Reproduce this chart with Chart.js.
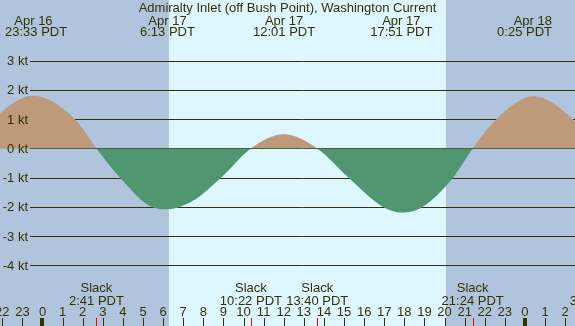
<!DOCTYPE html>
<html>
<head>
<meta charset="utf-8">
<script src="https://cdn.jsdelivr.net/npm/chart.js@4.4.0/dist/chart.umd.min.js"></script>
<style>
  body { margin: 0; overflow: hidden; background: #b0c4de; }
  canvas { display: block; }
</style>
</head>
<body>
<canvas id="graph" width="575" height="326"></canvas>
<script>
// current speed in knots, hours from Apr 17 00:00 PDT
let curveHours = [-3.5, -2.114, -0.45, 1.617, 2.683, 3.856, 5.44, 6.217, 7.438, 8.88, 10.367, 12.017, 13.667, 15.23, 16.94, 17.85, 18.9, 20.42, 21.4, 22.58, 24.417, 26.49, 27.6];
let curveKnots = [0, 1.19, 1.80, 1.0, 0, -1.0, -2.0, -2.08, -1.81, -1.0, 0, 0.48, 0, -1.0, -2.0, -2.19, -2.0, -1.0, 0, 1.0, 1.78, 0.93, 0];

// max flood / ebb events (top labels)
let maxHours = [-0.45, 6.217, 12.017, 17.85, 24.417];
let maxDays = ["Apr 16", "Apr 17", "Apr 17", "Apr 17", "Apr 18"];
let maxTimes = ["23:33 PDT", "6:13 PDT", "12:01 PDT", "17:51 PDT", "0:25 PDT"];

// slack water events (bottom labels)
let slackHours = [2.683, 10.367, 13.667, 21.4, 27.6];
let slackTimes = ["2:41 PDT", "10:22 PDT", "13:40 PDT", "21:24 PDT", "3:36 PDT"];

// sunrise, sunset
let sunHours = [6.29, 20.07];

let yTicks = [3, 2, 1, 0, -1, -2, -3, -4];
let hourTicks = [-2, -1, 0, 1, 2, 3, 4, 5, 6, 7, 8, 9, 10, 11, 12, 13, 14, 15, 16, 17, 18, 19, 20, 21, 22, 23, 24, 25, 26];

const titulo = "Admiralty Inlet (off Bush Point), Washington Current";
const ink = "rgb(51,51,0)";
const fuente = "13px 'Liberation Sans', Arial, sans-serif";

let graph = document.querySelector("#graph");

const fondo = {
    id: 'fondo',
    beforeDraw(chart) {
        const ctx = chart.ctx;
        const x = chart.scales.x;
        ctx.save();
        ctx.fillStyle = "rgb(176,196,222)";
        ctx.fillRect(0, 0, chart.width, chart.height);
        ctx.fillStyle = "rgb(222,246,255)";
        const a = x.getPixelForValue(sunHours[0]);
        const b = x.getPixelForValue(sunHours[1]);
        ctx.fillRect(a, 0, b - a, chart.height);
        ctx.restore();
    },
    beforeDatasetsDraw(chart) {
        const ctx = chart.ctx;
        const y = chart.scales.y;
        ctx.save();
        ctx.strokeStyle = ink;
        ctx.lineWidth = 1;
        yTicks.forEach((v) => {
            const py = Math.round(y.getPixelForValue(v)) + 0.5;
            ctx.beginPath();
            ctx.moveTo(30, py);
            ctx.lineTo(chart.width, py);
            ctx.stroke();
        });
        ctx.restore();
    },
    afterDatasetsDraw(chart) {
        const ctx = chart.ctx;
        const x = chart.scales.x;
        const y = chart.scales.y;
        ctx.save();
        ctx.font = fuente;
        ctx.fillStyle = ink;
        ctx.textBaseline = "alphabetic";

        // eje y
        ctx.textAlign = "right";
        yTicks.forEach((v) => {
            ctx.fillText(v + " kt", 28, y.getPixelForValue(v) + 4.5);
        });

        // titulo
        ctx.textAlign = "center";
        ctx.fillText(titulo, chart.width / 2, 11.5);

        // maximos arriba
        maxHours.forEach((h, i) => {
            const px = x.getPixelForValue(h);
            [[maxDays[i], 24.5], [maxTimes[i], 36]].forEach(([t, by]) => {
                const w = ctx.measureText(t).width;
                let c = px;
                if (c + w / 2 > 552) c = 552 - w / 2;
                if (c - w / 2 < 5) c = 5 + w / 2;
                ctx.fillText(t, c, by);
            });
        });

        // slack abajo
        slackHours.forEach((h, i) => {
            const px = x.getPixelForValue(h);
            ctx.fillText("Slack", px, 292);
            ctx.fillText(slackTimes[i], px, 304.5);
        });

        // horas
        hourTicks.forEach((h) => {
            const px = x.getPixelForValue(h);
            ctx.fillText(String(((h % 24) + 24) % 24), px, 316);
            if (((h % 24) + 24) % 24 === 0) {
                ctx.fillRect(Math.round(px) - 2, 318, 4, 8);
            } else {
                ctx.fillRect(Math.round(px), 318, 1, 8);
            }
        });
        ctx.fillStyle = "rgb(255,0,0)";
        slackHours.forEach((h) => {
            const px = x.getPixelForValue(h);
            ctx.fillRect(Math.round(px), 318, 1, 8);
        });
        ctx.restore();
    }
};

const data = {
    datasets: [{
        label: "Current",
        data: curveHours.map((h, i) => ({ x: h, y: curveKnots[i] })),
        fill: { target: 'origin', above: "rgb(188,154,122)", below: "rgb(80,150,112)" },
        borderWidth: 0,
        borderColor: "rgba(0,0,0,0)",
        pointRadius: 0,
        cubicInterpolationMode: 'monotone'
    }]
};

const config = {
    type: 'line',
    data: data,
    options: {
        responsive: false,
        animation: false,
        devicePixelRatio: 1,
        layout: { padding: { top: 46, bottom: 46, left: 0, right: 0 } },
        plugins: { legend: { display: false }, tooltip: { enabled: false } },
        scales: {
            x: { type: 'linear', min: -2.114, max: 26.49, display: false },
            y: { type: 'linear', min: -4.5, max: 3.5, display: false }
        }
    },
    plugins: [fondo]
};

new Chart(graph, config);
</script>
</body>
</html>
